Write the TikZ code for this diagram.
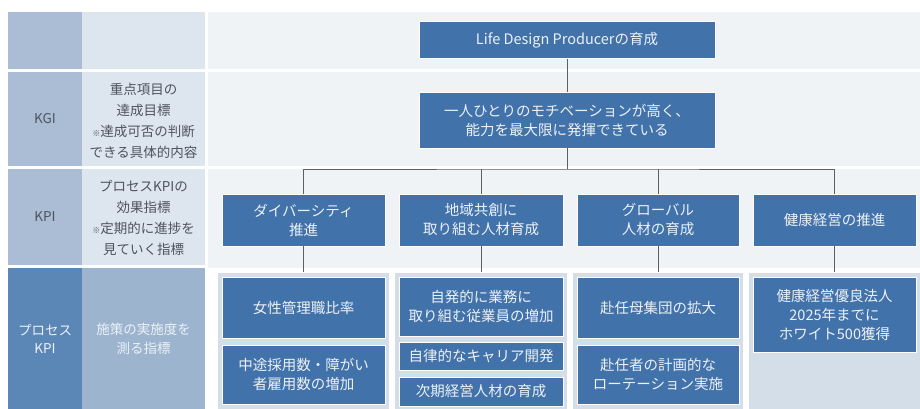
\documentclass[tikz,border=0pt]{standalone}
\usepackage{fontspec}
\newfontfamily\jp{Noto Sans CJK JP}
\definecolor{boxblue}{RGB}{66,114,170}
\definecolor{boxtext}{RGB}{236,241,247}
\definecolor{colA}{RGB}{170,189,212}
\definecolor{colAdark}{RGB}{91,135,183}
\definecolor{colB}{RGB}{221,229,238}
\definecolor{colBdark}{RGB}{156,180,206}
\definecolor{rightbg}{RGB}{240,243,246}
\definecolor{panel}{RGB}{212,222,233}
\definecolor{labeltext}{RGB}{78,84,94}
\definecolor{connline}{RGB}{95,95,95}
\tikzset{
  box/.style={fill=boxblue, draw=white, line width=0.8pt, text=boxtext, align=center,
    inner sep=0pt, font=\jp\fontsize{14.5}{19}\selectfont},
  lbl/.style={text=labeltext, align=center, inner sep=0pt, font=\jp\fontsize{13.5}{21}\selectfont},
  lbldark/.style={text=boxtext, align=center, inner sep=0pt, font=\jp\fontsize{13.5}{18.5}\selectfont},
  conn/.style={draw=connline, line width=0.9pt}
}
\begin{document}
\begin{tikzpicture}[x=1pt,y=-1pt]
\useasboundingbox (0,0) rectangle (920,409);
\fill[white] (0,0) rectangle (920,409);
% left column A
\fill[colA] (8,12) rectangle (82,69);
\fill[colA] (8,72) rectangle (82,166);
\fill[colA] (8,169) rectangle (82,265);
\fill[colAdark] (8,268) rectangle (82,409);
% left column B
\fill[colB] (82,12) rectangle (205,69);
\fill[colB] (82,72) rectangle (205,166);
\fill[colB] (82,169) rectangle (205,265);
\fill[colBdark] (82,268) rectangle (205,409);
% right area rows
\fill[rightbg] (208,12) rectangle (920,69);
\fill[rightbg] (208,72) rectangle (920,166);
\fill[rightbg] (208,169) rectangle (920,268);
% bottom panels
\fill[panel] (218,273) rectangle (389,409);
\fill[panel] (395,273) rectangle (567,409);
\fill[panel] (573,273) rectangle (743,409);
\fill[panel] (749,273) rectangle (920,409);

% left labels
\node[lbl] (kgi) at (45,119) {KGI};
\node[lbl] (kgid) at (143.5,121) {重点項目の\\達成目標\\{\fontsize{8}{10}\selectfont ※}達成可否の判断\\できる具体的内容};
\node[lbl] (kpi) at (45,217) {KPI};
\node[lbl] (kpid) at (143.5,218) {プロセスKPIの\\効果指標\\{\fontsize{8}{10}\selectfont ※}定期的に進捗を\\見ていく指標};
\node[lbldark] (pk) at (45,339) {プロセス\\KPI};
\node[lbldark] (pkd) at (143.5,339) {施策の実施度を\\測る指標};

% top boxes
\node[box, minimum width=296pt, minimum height=37pt] (t) at (567,40) {Life Design Producerの育成};
\node[box, minimum width=296pt, minimum height=56pt] (g) at (567,120) {一人ひとりのモチベーションが高く、\\能力を最大限に発揮できている};

% KPI boxes
\node[box, minimum width=163pt, minimum height=52pt] (k1) at (303.5,220) {ダイバーシティ\\推進};
\node[box, minimum width=164pt, minimum height=52pt] (k2) at (481,220) {地域共創に\\取り組む人材育成};
\node[box, minimum width=162pt, minimum height=52pt] (k3) at (658,220) {グローバル\\人材の育成};
\node[box, minimum width=163pt, minimum height=52pt] (k4) at (834.5,220) {健康経営の推進};

% bottom boxes
\node[box, minimum width=163pt, minimum height=61pt] (b11) at (303.5,307.5) {女性管理職比率};
\node[box, minimum width=163pt, minimum height=59pt] (b12) at (303.5,374.5) {中途採用数・障がい\\者雇用数の増加};
\node[box, minimum width=164pt, minimum height=59pt] (b21) at (481,306.5) {自発的に業務に\\取り組む従業員の増加};
\node[box, minimum width=164pt, minimum height=28pt] (b22) at (481,356) {自律的なキャリア開発};
\node[box, minimum width=164pt, minimum height=29pt] (b23) at (481,391.5) {次期経営人材の育成};
\node[box, minimum width=162pt, minimum height=61pt] (b31) at (658,307.5) {赴任母集団の拡大};
\node[box, minimum width=162pt, minimum height=59pt] (b32) at (658,374.5) {赴任者の計画的な\\ローテーション実施};
\node[box, minimum width=163pt, minimum height=75pt] (b41) at (834.5,314.5) {健康経営優良法人\\2025年までに\\ホワイト500獲得};

% connectors
\coordinate (h) at (567,169);
\coordinate (bt) at (0,272);
\draw[conn] (t.south) -- (g.north);
\draw[conn] (g.south) -- (h);
\draw[conn] (k1.north) |- (h) -| (k4.north);
\draw[conn] (k2.north) -- (k2.north |- h);
\draw[conn] (k3.north) -- (k3.north |- h);
\draw[conn] (k1.south) -- (k1.south |- bt);
\draw[conn] (k2.south) -- (k2.south |- bt);
\draw[conn] (k3.south) -- (k3.south |- bt);
\draw[conn] (k4.south) -- (k4.south |- bt);
\end{tikzpicture}
\end{document}
